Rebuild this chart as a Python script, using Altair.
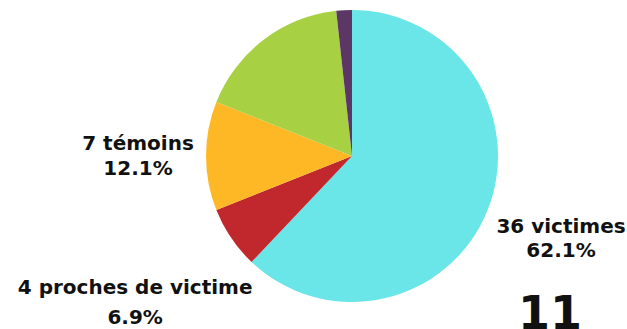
import altair as alt
import pandas as pd

labels = ["victimes", "proches de victime", "témoins", "", ""]
counts = [36, 4, 7, 10, 1]
colors = ["#6AE5E8", "#C1282D", "#FEB825", "#A8D043", "#5C3665"]
big_number = "11"

total = sum(counts)
pcts = [f"{c / total * 100:.1f}%" for c in counts]
names = [f"{c} {l}" if l else "" for c, l in zip(counts, labels)]

df = pd.DataFrame({
    "idx": list(range(len(counts))),
    "label": labels,
    "n": counts,
    "pct": pcts,
    "name": names,
})

CX, CY, R = 352, 156, 146
FONT = "DejaVu Sans"

base = alt.Chart(df)

arc = base.mark_arc(outerRadius=R, strokeWidth=0).encode(
    theta=alt.Theta("n:Q", stack=True),
    color=alt.Color("idx:N", scale=alt.Scale(domain=list(range(len(counts))), range=colors), legend=None),
    order=alt.Order("idx:Q"),
    x=alt.value(CX),
    y=alt.value(CY),
)


def label_layers(i, r, dy1, dy2):
    b = (
        base.transform_window(cum="sum(n)", sort=[alt.SortField("idx")])
        .transform_calculate(mid="datum.cum - datum.n / 2")
        .transform_filter(alt.datum.idx == i)
    )
    enc = dict(
        theta=alt.Theta("mid:Q", scale=alt.Scale(domain=[0, total])),
        x=alt.value(CX),
        y=alt.value(CY),
    )
    style = dict(font=FONT, fontSize=20, fontWeight="bold", color="#111111",
                 align="center", baseline="middle", radius=r)
    t1 = b.mark_text(dy=dy1, **style).encode(text="name:N", **enc)
    t2 = b.mark_text(dy=dy2, **style).encode(text="pct:N", **enc)
    return [t1, t2]


layers = [arc]
layers += label_layers(0, 225, -12, 12)
layers += label_layers(1, 262, -15, 15)
layers += label_layers(2, 214, -12, 13)

big = alt.Chart(pd.DataFrame({"t": [big_number]})).mark_text(
    font=FONT, fontSize=46, fontWeight="bold", color="#111111",
    align="center", baseline="alphabetic"
).encode(text="t:N", x=alt.value(550), y=alt.value(329))
layers.append(big)

chart = (
    alt.layer(*layers)
    .resolve_scale(theta="independent")
    .properties(width=627, height=329, padding=0, autosize=alt.AutoSizeParams(type="none"))
    .configure_view(stroke=None)
)

chart.save("out.html", embed_options={"renderer": "svg", "actions": False})
